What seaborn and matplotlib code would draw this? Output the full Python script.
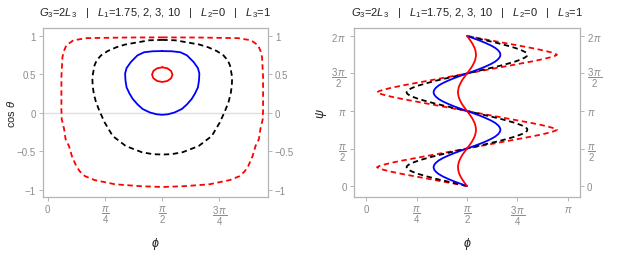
import numpy as np
import pandas as pd
import seaborn as sns
import matplotlib.pyplot as plt

# ---- left panel: right half of each closed orbit, top -> bottom (phi, cos theta)
# the left half is the mirror image about phi = pi/2
red_small_phi = [1.571, 1.641, 1.692, 1.711, 1.692, 1.641, 1.571]
red_small_c = [0.59, 0.577, 0.543, 0.495, 0.448, 0.413, 0.40]

blue_phi = [1.571, 1.70, 1.82, 1.91, 2.00, 2.06, 2.08, 2.075, 2.06, 2.02, 1.975, 1.91, 1.84, 1.74, 1.65, 1.571]
blue_c = [0.80, 0.798, 0.785, 0.745, 0.66, 0.58, 0.51, 0.42, 0.33, 0.25, 0.18, 0.11, 0.05, 0.005, -0.018, -0.025]

black_phi = [1.571, 1.75, 1.93, 2.08, 2.20, 2.32, 2.41, 2.47, 2.50, 2.53, 2.525, 2.51, 2.48, 2.43, 2.36, 2.25, 2.07, 1.85, 1.70, 1.571]
black_c = [0.945, 0.94, 0.91, 0.885, 0.85, 0.80, 0.745, 0.68, 0.615, 0.46, 0.35, 0.25, 0.14, 0.02, -0.125, -0.30, -0.43, -0.51, -0.535, -0.54]

red_big_phi = [1.571, 2.06, 2.61, 2.79, 2.886, 2.92, 2.94, 2.954, 2.954, 2.95, 2.917, 2.897, 2.85, 2.81, 2.75, 2.70, 2.63, 2.50, 2.22, 1.87, 1.571]
red_big_c = [0.978, 0.976, 0.968, 0.94, 0.875, 0.80, 0.72, 0.46, 0.05, -0.08, -0.21, -0.34, -0.43, -0.56, -0.69, -0.76, -0.82, -0.87, -0.925, -0.95, -0.96]

# ---- right panel: one quarter lobe, psi from 0 to pi/4, offset of phi from pi/2
psi_half = [0, 0.1, 0.2, 0.3, 0.4, 0.5, 0.6, 0.68, 0.74, 0.785]
d_red_big = [0, 0.2, 0.4, 0.6, 0.8, 1.0, 1.18, 1.30, 1.37, 1.40]
d_black = [0, 0.16, 0.32, 0.48, 0.62, 0.75, 0.85, 0.91, 0.935, 0.94]
d_blue = [0, 0.105, 0.205, 0.295, 0.375, 0.44, 0.485, 0.508, 0.517, 0.52]
d_red_small = [0, 0.028, 0.055, 0.08, 0.10, 0.118, 0.13, 0.136, 0.139, 0.14]

title = r"$G_3$=2$L_3$   |   $L_1$=1.75, 2, 3, 10   |   $L_2$=0   |   $L_3$=1"

styles = {
    "red_big": dict(color="#ff0000", dashes=(3, 2)),
    "black": dict(color="black", dashes=(3, 2)),
    "blue": dict(color="#0000ff"),
    "red_small": dict(color="#ff0000"),
}


def closed(phi, c):
    phi = np.array(phi)
    c = np.array(c)
    x = np.concatenate([phi, np.pi - phi[::-1]])
    y = np.concatenate([c, c[::-1]])
    return pd.DataFrame({"phi": x, "cos": y})


def zigzag(d):
    d = np.array(d)
    p = np.array(psi_half)
    lobe_psi = np.concatenate([p, np.pi / 2 - p[::-1][1:]])
    lobe_d = np.concatenate([d, d[::-1][1:]])
    xs, ys = [], []
    for k in range(4):
        sign = -1 if k % 2 == 0 else 1
        xs.append(np.pi / 2 + sign * lobe_d)
        ys.append(k * np.pi / 2 + lobe_psi)
    return pd.DataFrame({"phi": np.concatenate(xs), "psi": np.concatenate(ys)})


sns.set_theme(style="white")
plt.rcParams["font.family"] = ["Liberation Sans", "DejaVu Sans"]
plt.rcParams["mathtext.fontset"] = "custom"
plt.rcParams["mathtext.rm"] = "Liberation Sans"
plt.rcParams["mathtext.it"] = "Liberation Sans:italic"

gray = "#8c8c8c"
frame = "#b4b4b4"

fig = plt.figure(figsize=(6.23, 2.55), dpi=100)
ax1 = fig.add_axes([0.069, 0.2235, 0.361, 0.663])
ax2 = fig.add_axes([0.568, 0.2235, 0.363, 0.663])

left_data = {
    "red_big": closed(red_big_phi, red_big_c),
    "black": closed(black_phi, black_c),
    "blue": closed(blue_phi, blue_c),
    "red_small": closed(red_small_phi, red_small_c),
}
right_data = {
    "red_big": zigzag(d_red_big),
    "black": zigzag(d_black),
    "blue": zigzag(d_blue),
    "red_small": zigzag(d_red_small),
}

ax1.axhline(0, color="#e0e0e0", lw=1.0, zorder=0)
for key, df in left_data.items():
    st = styles[key]
    l = sns.lineplot(data=df, x="phi", y="cos", sort=False, estimator=None,
                     color=st["color"], lw=1.3, ax=ax1)
    if "dashes" in st:
        l.lines[-1].set_dashes(st["dashes"])

for key, df in right_data.items():
    st = styles[key]
    l = sns.lineplot(data=df, x="phi", y="psi", sort=False, estimator=None,
                     color=st["color"], lw=1.3, ax=ax2)
    if "dashes" in st:
        l.lines[-1].set_dashes(st["dashes"])

ax1.set_xlim(-0.065, 3.02)
ax1.set_ylim(-1.09, 1.10)
ax2.set_xlim(-0.19, 3.33)
ax2.set_ylim(-0.46, 6.62)

pi_ticks = [0, np.pi / 4, np.pi / 2, 3 * np.pi / 4]
pi_labels = ["0", r"$\dfrac{\pi}{4}$", r"$\dfrac{\pi}{2}$", r"$\dfrac{3\,\pi}{4}$"]
ax1.set_xticks(pi_ticks)
ax1.set_xticklabels(pi_labels)
ax1.set_yticks([-1, -0.5, 0, 0.5, 1])
ax1.set_yticklabels(["\u22121", "\u22120.5", "0", "0.5", "1"])

ax2.set_xticks(pi_ticks + [np.pi])
ax2.set_xticklabels(pi_labels + [r"$\pi$"])
ax2.set_yticks([0, np.pi / 2, np.pi, 3 * np.pi / 2, 2 * np.pi])
ax2.set_yticklabels(["0", r"$\dfrac{\pi}{2}$", r"$\pi$", r"$\dfrac{3\,\pi}{2}$", r"$2\,\pi$"])

for ax in (ax1, ax2):
    for sp in ax.spines.values():
        sp.set_color(frame)
        sp.set_linewidth(0.9)
    ax.tick_params(direction="out", length=3, width=0.7, color=frame,
                   labelcolor=gray, labelsize=7, pad=2,
                   left=True, right=True, bottom=True, labelright=True)
    ax.set_title(title, fontsize=8, pad=9, color="#222222")

ax1.set_xlabel(r"$\phi$", fontsize=9, labelpad=6, color="#222222")
ax1.set_ylabel(r"cos $\theta$", fontsize=8, color="#222222")
ax1.yaxis.set_label_coords(-0.115, 0.5)
ax2.set_xlabel(r"$\phi$", fontsize=9, labelpad=6, color="#222222")
ax2.set_ylabel(r"$\psi$", fontsize=9, color="#222222")
ax2.yaxis.set_label_coords(-0.11, 0.5)

fig.savefig("out.png", dpi=100)
